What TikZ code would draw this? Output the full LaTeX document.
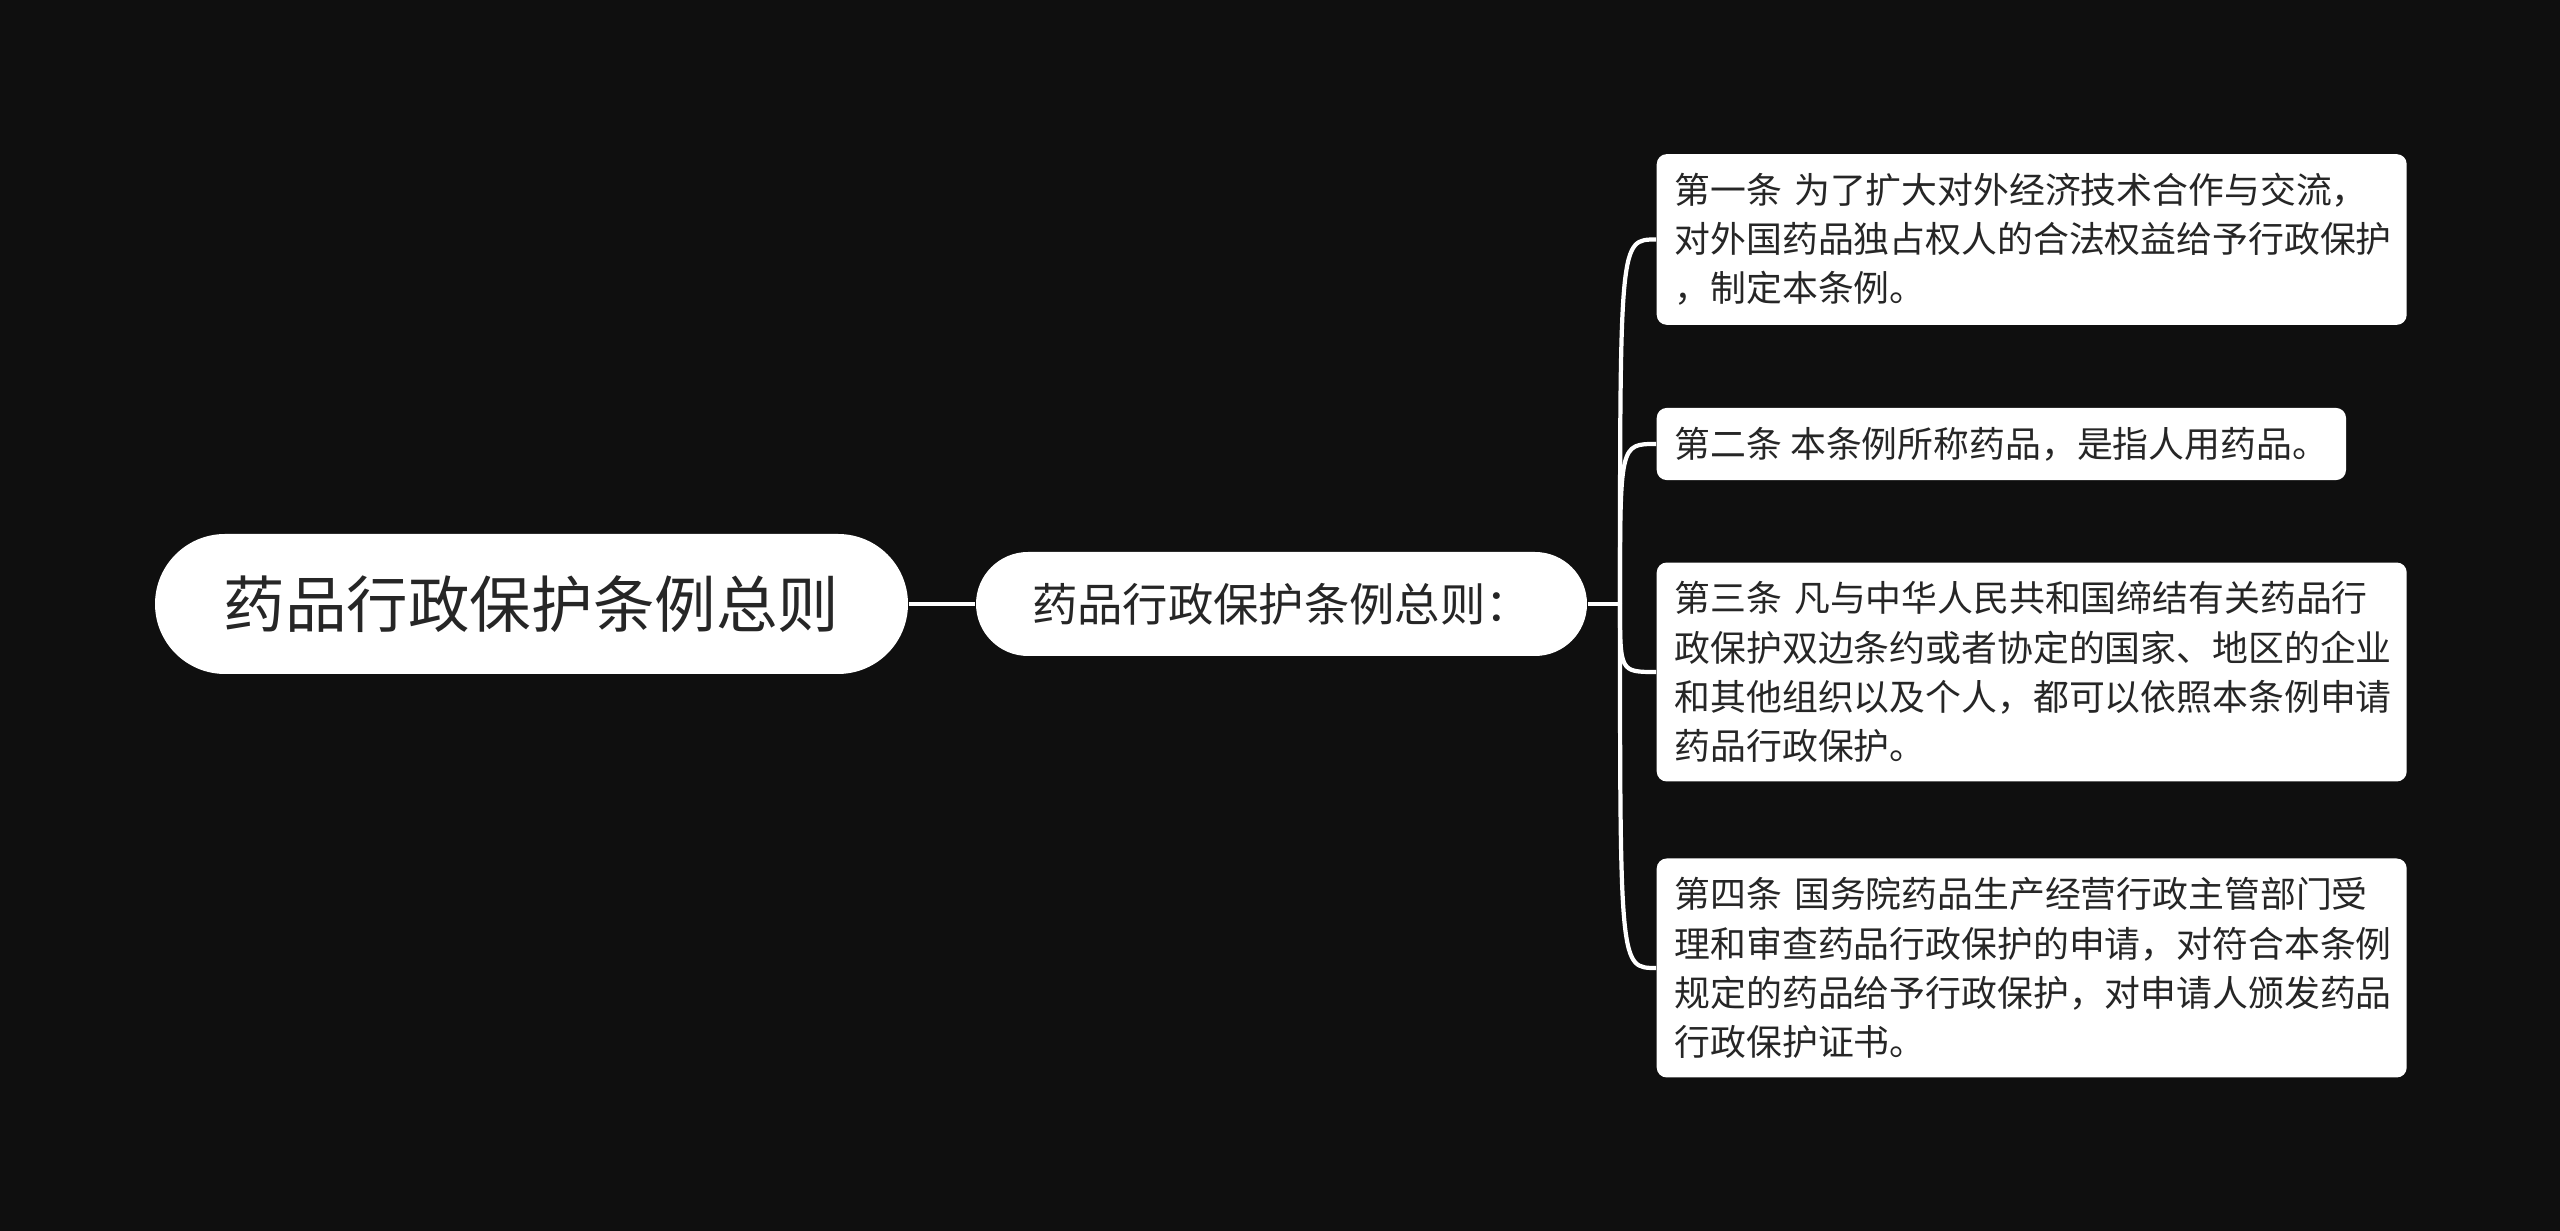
\documentclass[tikz,border=0pt]{standalone}
\usepackage{fontspec}
\setmainfont{Noto Sans CJK SC}
\definecolor{bgcol}{HTML}{0F0F0F}
\definecolor{txtcol}{HTML}{262626}

\begin{document}
\begin{tikzpicture}[
  root/.style={fill=white, text=txtcol, rounded corners=0.7cm, minimum width=7.53cm, minimum height=1.4cm, inner sep=0pt, font=\fontsize{17.5pt}{20pt}\selectfont},
  sub/.style={fill=white, text=txtcol, rounded corners=0.52cm, minimum width=6.11cm, minimum height=1.04cm, inner sep=0pt, font=\fontsize{12.9pt}{15pt}\selectfont},
  leaf/.style={fill=white, text=txtcol, rounded corners=0.1cm, anchor=west, align=left, inner xsep=0.18cm, inner ysep=0.19cm, font=\fontsize{10.2pt}{14pt}\selectfont},
  wide/.style={text width=7.14cm},
  link/.style={draw=white, line width=1.2pt}
]

\useasboundingbox (0,0) rectangle (25.6,-12.31);
\fill [bgcol] (0,0) rectangle (25.6,-12.31);

\node [root] (v1) at (5.315,-6.04) {药品行政保护条例总则};
\node [sub] (v2) at (12.815,-6.04) {药品行政保护条例总则：};
\coordinate (j) at (16.2,-6.04);

\node [leaf, wide] (v3) at (16.56,-2.395) {第一条 为了扩大对外经济技术合作与交流，\\对外国药品独占权人的合法权益给予行政保护\\，制定本条例。};
\node [leaf] (v4) at (16.56,-4.44) {第二条 本条例所称药品，是指人用药品。};
\node [leaf, wide] (v5) at (16.56,-6.72) {第三条 凡与中华人民共和国缔结有关药品行\\政保护双边条约或者协定的国家、地区的企业\\和其他组织以及个人，都可以依照本条例申请\\药品行政保护。};
\node [leaf, wide] (v6) at (16.56,-9.68) {第四条 国务院药品生产经营行政主管部门受\\理和审查药品行政保护的申请，对符合本条例\\规定的药品给予行政保护，对申请人颁发药品\\行政保护证书。};

\draw [link] (v1) -- (v2);
\draw [link] (v2) -- (j);
\draw [link] (j) .. controls (j |- v3.west) and (j |- v3.west) .. (v3.west);
\draw [link] (j) .. controls (j |- v4.west) and (j |- v4.west) .. (v4.west);
\draw [link] (j) .. controls (j |- v5.west) and (j |- v5.west) .. (v5.west);
\draw [link] (j) .. controls (j |- v6.west) and (j |- v6.west) .. (v6.west);
\end{tikzpicture}
\end{document}
